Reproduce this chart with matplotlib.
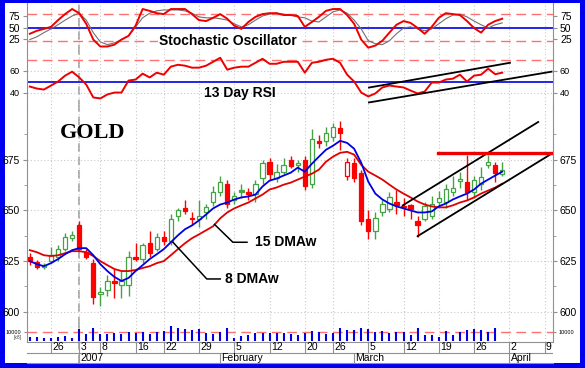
import numpy as np
import pandas as pd
import matplotlib
matplotlib.use("Agg")
import matplotlib.pyplot as plt
from matplotlib.patches import Rectangle

plt.rcParams['font.family'] = ['Liberation Sans', 'DejaVu Sans']

# trading days (COMEX gold, Dec 2006 - Apr 2007)
holidays = ["2006-12-25", "2007-01-01", "2007-01-02", "2007-01-15", "2007-02-19"]
days = pd.bdate_range("2006-12-20", "2007-04-10").drop(pd.to_datetime(holidays))

# daily OHLC
opens = [627, 624.5, 622, 625, 627, 631, 636.5, 643, 629.5, 624,
         609, 611, 615, 613, 613, 627, 626, 634, 631, 637,
         635, 647, 651, 646.5, 646, 649, 654, 659, 663, 655,
         660, 659, 658, 666, 674, 666, 669, 675, 672.5, 675,
         663, 684, 684, 686, 690.5, 667, 673.5, 668.5, 646, 640,
         649, 650.5, 654, 652, 652.5, 645, 646, 647, 654, 654,
         659, 664.5, 664, 659, 663, 672.5, 672.5, 668]
highs = [629, 625.5, 624, 632, 633, 639, 640, 645, 631, 626,
         612, 618, 621, 620, 630, 634, 634, 640, 639, 640,
         648, 651, 655, 649, 655, 653, 662, 667, 665, 659,
         663, 661, 665, 675, 676, 673, 676, 677, 675, 677,
         690, 687, 691, 693, 694, 676, 676, 670, 650, 649,
         655, 659, 660, 656, 653, 647, 654, 657, 659.5, 663,
         667, 669, 677.5, 667, 671.5, 677.5, 674, 674]
lows = [623, 621, 621, 624, 625, 630, 635, 630, 626, 604,
        603, 608, 607, 607, 608, 625, 624, 627, 630, 633,
        633, 645, 648, 643, 642, 646, 652, 657, 651, 653,
        656, 655, 654, 663, 665, 664, 668, 671, 669, 660,
        661, 681, 682, 684, 680, 665, 664, 643, 636, 636,
        647, 649, 648, 647, 646, 637, 645, 646, 652, 651,
        657, 661, 655, 656, 660, 671, 664, 667]
closes = [625, 622, 623, 628, 631, 637, 638, 631, 627, 607.5,
          610, 615, 614, 615, 627, 626, 633, 629, 637, 635,
          646, 650, 649.5, 646, 647, 651.5, 659, 664, 653, 657,
          659, 658, 663, 673.5, 668, 669, 672.5, 672, 673.5, 662,
          685, 683, 688, 691, 688, 674, 666, 645, 640, 646.5,
          653, 656.5, 652.5, 651.5, 650.5, 643, 652, 653, 656, 660.5,
          661, 665.5, 659, 665, 666.5, 674, 668.5, 670]

# 8 and 15 day weighted moving averages (blue / red)
ma8 = [625.0, 623.5, 622.5, 624.0, 626.0, 628.4, 630.4, 631.4, 631.4, 627.9,
       623.5, 620.1, 617.2, 615.2, 616.7, 620.1, 623.0, 626.0, 628.4, 630.9,
       634.3, 637.7, 640.7, 642.6, 645.1, 648.0, 651.0, 652.9, 653.9, 655.4,
       656.4, 656.9, 657.8, 661.8, 664.7, 665.7, 667.2, 668.6, 671.1, 669.1,
       673.0, 676.5, 679.9, 681.9, 684.3, 683.3, 680.4, 673.5, 664.2, 658.3,
       655.4, 653.4, 652.0, 651.0, 650.0, 649.0, 649.0, 649.5, 652.0, 653.4,
       655.4, 656.9, 658.3, 660.3, 663.2, 665.2, 667.2, 669.1]
ma15 = [630.4, 629.4, 627.9, 627.5, 627.9, 628.9, 629.9, 629.9, 629.4, 627.5,
        625.0, 623.0, 621.1, 620.1, 620.1, 620.6, 621.6, 622.5, 624.0, 625.0,
        627.9, 630.9, 633.8, 636.3, 638.2, 640.2, 642.2, 646.1, 649.0, 651.0,
        652.5, 653.9, 655.9, 657.8, 660.3, 661.3, 662.7, 663.7, 665.2, 666.7,
        668.1, 670.1, 674.0, 676.5, 678.4, 678.9, 677.5, 672.5, 669.1, 667.2,
        665.2, 662.7, 660.3, 658.3, 656.4, 654.4, 652.9, 652.0, 651.5, 651.5,
        652.5, 653.9, 654.9, 656.4, 658.3, 659.8, 661.3, 663.2]

# stochastic %K (red) and %D (grey)
stoch_k = [36.5, 43, 47, 51.5, 66, 79, 90, 81, 58, 24,
           9, 9, 13, 24, 32, 54, 90, 86, 81, 79,
           90, 90, 90, 79, 66, 64, 71, 79, 69, 54,
           47, 62, 73, 79, 81, 81, 77, 77, 75, 51.5,
           62, 73, 86, 90, 90, 77, 58, 24, 6.5, 11,
           21.5, 39, 56, 64, 60, 49, 36.5, 51.5, 71, 81,
           79, 77, 64, 49, 39, 56, 64, 69]
stoch_d = [24, 30, 39, 47, 56, 66, 75, 81, 66, 39,
           19, 13, 17, 24, 32, 51.5, 71, 81, 86, 88,
           88, 88, 86, 81, 73, 71, 71, 69, 66, 58,
           51.5, 56, 66, 75, 79, 81, 79, 77, 73, 71,
           64, 62, 73, 84, 88, 81, 66, 47, 21.5, 15,
           13, 21.5, 36.5, 49, 51.5, 47, 43, 47, 58, 69,
           77, 79, 73, 64, 56, 49, 56, 60]

# 13 day RSI
rsi = [45.8, 44, 43.1, 46.7, 50.3, 55.6, 59.2, 54, 47.6, 36,
       35.1, 38.7, 40.4, 40.4, 51.2, 52.1, 57.4, 54, 58.3, 56.5,
       63.7, 65.4, 64.6, 62.8, 62.8, 64.6, 68.1, 71.7, 61, 62.8,
       63.7, 63.7, 67.2, 70.8, 66.3, 66.3, 68.1, 68.1, 68.1, 58.3,
       67.2, 68.1, 69.9, 70.8, 67.2, 56.5, 50.3, 40.4, 36.9, 39.6,
       45, 46.7, 45.8, 45, 42.2, 39.6, 41.3, 49.4, 49.4, 52.1,
       52.9, 56.5, 50.3, 55.6, 56.5, 61.9, 56.9, 58.3]

volume = [4800, 4100, 3000, 3000, 4100, 5600, 3700, 13000, 7400, 14100,
          7400, 7400, 8500, 7800, 10400, 8500, 10400, 7800, 10400, 11500,
          16700, 14100, 13300, 12200, 13300, 8500, 7800, 10400, 14100, 3000,
          5600, 6700, 9300, 8500, 8500, 8500, 8500, 7800, 6700, 8500,
          11500, 10400, 7800, 8500, 14800, 12200, 12200, 14800, 13000, 10400,
          11500, 8500, 10400, 10400, 6700, 14100, 6700, 6700, 4800, 11100,
          6700, 10400, 12200, 13000, 12200, 10400, 14100, np.nan]

tick_dates = ["2006-12-26", "2007-01-03", "2007-01-08", "2007-01-16", "2007-01-22",
              "2007-01-29", "2007-02-05", "2007-02-12", "2007-02-20", "2007-02-26",
              "2007-03-05", "2007-03-12", "2007-03-19", "2007-03-26", "2007-04-02",
              "2007-04-09"]
tick_labels = ["26", "3", "8", "16", "22", "29", "5", "12", "20", "26",
               "5", "12", "19", "26", "2", "9"]
month_dates = ["2007-01-03", "2007-02-01", "2007-03-01", "2007-04-02"]
month_labels = ["2007", "February", "March", "April"]

# trend lines drawn by the analyst (day index, value)
price_upper = ([52.9, 72.1], [652.5, 693.6])
price_lower = ([55.0, 74.2], [637.3, 678.4])
resistance = ([57.9, 74.2], [678.4, 678.4])
rsi_upper = ([48.1, 68.1], [44.9, 67.2])
rsi_lower = ([48.1, 74.0], [31.5, 59.2])

x = np.arange(len(closes))
xt = [days.get_loc(pd.Timestamp(d)) for d in tick_dates]
xm = [days.get_loc(pd.Timestamp(d)) for d in month_dates]
xlim = (-0.4, 74.2)
jan3 = days.get_loc(pd.Timestamp("2007-01-03"))

W, H = 585, 368
fig = plt.figure(figsize=(W / 100, H / 100), dpi=100)
fig.patch.set_facecolor('#0000f0')
fig.patches.append(Rectangle((5 / W, 1 - 363 / H), 575 / W, 360 / H,
                             transform=fig.transFigure, fc='white', ec='none', zorder=-10))


def panel(top, bottom):
    return fig.add_axes([27 / W, 1 - bottom / H, 526 / W, (bottom - top) / H])


ax_s = panel(3, 53)
ax_r = panel(53, 108)
ax_p = panel(108, 325)
ax_v = panel(325, 342)
ax_d = panel(342, 363)

grey = '#909090'
green = '#44a444'
red = '#ff0000'

for ax in (ax_s, ax_r, ax_p, ax_v):
    ax.set_xlim(*xlim)
    ax.set_facecolor('none')
    for s in ('top', 'bottom'):
        ax.spines[s].set_visible(False)
    for s in ('left', 'right'):
        ax.spines[s].set_color(grey)
    ax.set_xticks(xt)
    ax.tick_params(axis='x', length=0, labelbottom=False)
    ax.tick_params(axis='y', which='both', left=True, right=True, labelleft=True,
                   labelright=True, length=3, color=grey, labelsize=7.5, pad=2)
    ax.grid(True, axis='x', color='#c8c8c8', linestyle=(0, (1, 2)), linewidth=0.8)
    ax.axvline(jan3, color='#a0a0a0', linestyle=(0, (5, 3)), linewidth=1.2, zorder=1)

# stochastic
ax_s.set_ylim(-5, 103)
ax_s.set_yticks([25, 50, 75])
ax_s.axhline(80, color='#ff7070', linestyle=(0, (7, 4)), linewidth=1)
ax_s.axhline(20, color='#ff7070', linestyle=(0, (7, 4)), linewidth=1)
ax_s.axhline(50, color='#0000e0', linewidth=1.2)
ax_s.plot(x, stoch_d, color='#707070', linewidth=0.8, zorder=3)
ax_s.plot(x, stoch_k, color='#ee0000', linewidth=1.4, zorder=4)
ax_s.text(28.1, 21.5, "Stochastic Oscillator", fontsize=10, fontweight='bold',
          ha='center', va='center', zorder=5,
          bbox=dict(fc='white', ec='none', pad=0.5))

# RSI
ax_r.set_ylim(26.5, 76)
ax_r.set_yticks([40, 60])
ax_r.tick_params(axis='y', labelsize=6.5)
ax_r.grid(True, axis='y', color='#c8c8c8', linestyle=(0, (1, 2)), linewidth=0.8)
ax_r.axhline(70, color='#ff7070', linestyle=(0, (7, 4)), linewidth=1)
ax_r.axhline(50, color='#0000e0', linewidth=1.2)
ax_r.plot(x, rsi, color='#ee0000', linewidth=1.4, zorder=4)
ax_r.plot(*rsi_upper, color='black', linewidth=1.3, zorder=5)
ax_r.plot(*rsi_lower, color='black', linewidth=1.3, zorder=5)
ax_r.text(29.8, 39.6, "13 Day RSI", fontsize=10, fontweight='bold',
          ha='center', va='center', zorder=5)

# price candles
ax_p.set_ylim(593.5, 700.5)
ax_p.set_yticks([600, 625, 650, 675])
ax_p.set_yticks(np.arange(600, 700, 12.5), minor=True)
ax_p.tick_params(axis='y', which='minor', length=2)
ax_p.grid(True, axis='y', color='#c8c8c8', linestyle=(0, (1, 2)), linewidth=0.8)
bw = 0.62
for i in range(len(closes)):
    prev = closes[i - 1] if i > 0 else opens[i]
    col = green if closes[i] >= prev else red
    filled = closes[i] < opens[i]
    ax_p.vlines(x[i], lows[i], highs[i], color=col, linewidth=1, zorder=3)
    lo, hi = min(opens[i], closes[i]), max(opens[i], closes[i])
    ax_p.add_patch(Rectangle((x[i] - bw / 2, lo), bw, max(hi - lo, 0.4),
                             fc=col if filled else 'white', ec=col, lw=0.9, zorder=4))
ax_p.plot(x, ma15, color='#e00000', linewidth=1.3, zorder=5)
ax_p.plot(x, ma8, color='#0000e0', linewidth=1.3, zorder=6)
ax_p.plot(*price_upper, color='black', linewidth=1.3, zorder=7)
ax_p.plot(*price_lower, color='black', linewidth=1.3, zorder=7)
ax_p.plot(*resistance, color='#ee0000', linewidth=2.4, zorder=7)
ax_p.plot([26.2, 28.8, 30.8], [643.1, 634.3, 634.3], color='black', linewidth=1.1, zorder=7)
ax_p.text(31.9, 634.3, "15 DMAw", fontsize=10, fontweight='bold', va='center', ha='left')
ax_p.plot([20.3, 25.1, 27.0], [634.3, 616.2, 616.2], color='black', linewidth=1.1, zorder=7)
ax_p.text(27.7, 616.2, "8 DMAw", fontsize=10, fontweight='bold', va='center', ha='left')
ax_p.text(8.9, 688.2, "GOLD", fontsize=16, fontweight='bold', family='Liberation Serif',
          ha='center', va='center')

# volume
ax_v.set_ylim(-1100, 17800)
ax_v.set_yticks([10000])
ax_v.set_yticklabels(["10000"])
ax_v.tick_params(axis='y', labelsize=4, length=2)
ax_v.axhline(10000, color='#ff7070', linestyle=(0, (7, 4)), linewidth=1)
ax_v.vlines(x, 0, volume, color='#0000e0', linewidth=1.5, zorder=3)
ax_v.text(-1.2, 4000, "[x8]", fontsize=3.5, ha='right', va='center', color='#404040')

# date axis
ax_d.set_xlim(*xlim)
ax_d.set_ylim(0, 2)
ax_d.set_xticks([])
ax_d.set_yticks([])
for s in ax_d.spines.values():
    s.set_color(grey)
ax_d.spines['left'].set_visible(False)
ax_d.spines['right'].set_visible(False)
ax_d.axhline(1, xmax=(74 - xlim[0]) / (xlim[1] - xlim[0]), color=grey, linewidth=0.8)
for xi, lab in zip(xt, tick_labels):
    ax_d.plot([xi, xi], [1, 2], color=grey, linewidth=0.8)
    ax_d.text(xi + 0.2, 1.5, lab, fontsize=7.5, ha='left', va='center')
for xi, lab in zip(xm, month_labels):
    ax_d.plot([xi, xi], [0, 1], color=grey, linewidth=0.8)
    ax_d.text(xi + 0.2, 0.5, lab, fontsize=7.5, ha='left', va='center')
ax_d.axvline(jan3, color='#a0a0a0', linestyle=(0, (5, 3)), linewidth=1.2)

fig.savefig("out.png", dpi=100, facecolor=fig.get_facecolor())
